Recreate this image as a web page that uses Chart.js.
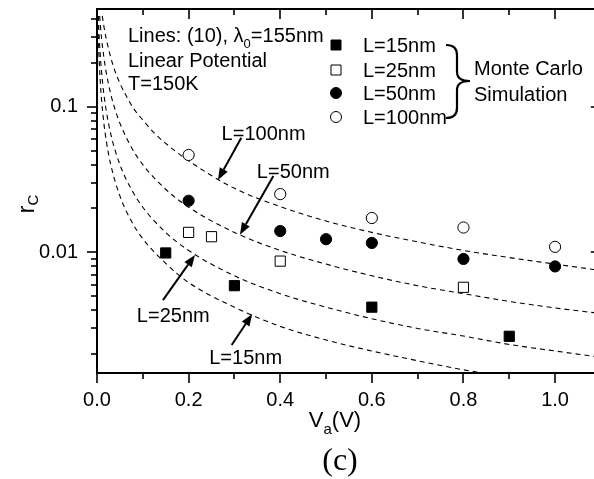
<!doctype html>
<html lang="en">
  <head>
    <meta charset="utf-8">
    <title>r_c vs V_a</title>
    <style>
      html, body {
        margin: 0;
        padding: 0;
        overflow: hidden;
        background: #fff;
      }
      #myChart {
        display: block;
        width: 594px;
        height: 479px;
      }
    </style>
  </head>
  <body>
    <canvas id="myChart" width="594" height="479"></canvas>
    <script src="https://cdn.jsdelivr.net/npm/chart.js"></script>
    <script>
    // Monte Carlo points: V_a (V) and r_c
    const mcL15x = [0.15, 0.3, 0.6, 0.9];
    const mcL15y = [0.0099, 0.0059, 0.0042, 0.00265];
    const mcL25x = [0.2, 0.25, 0.4, 0.8];
    const mcL25y = [0.0137, 0.0128, 0.0087, 0.00575];
    const mcL50x = [0.2, 0.4, 0.5, 0.6, 0.8, 1.0];
    const mcL50y = [0.0226, 0.0140, 0.0123, 0.0116, 0.0090, 0.0080];
    const mcL100x = [0.2, 0.4, 0.6, 0.8, 1.0];
    const mcL100y = [0.0466, 0.0251, 0.0172, 0.0148, 0.0109];

    // dashed model lines, eq. (10)
    const eqL15x = [0.0017, 0.002, 0.003, 0.005, 0.0075, 0.01, 0.015, 0.02, 0.03, 0.05, 0.075, 0.1, 0.15, 0.2, 0.3, 0.4, 0.5, 0.6, 0.7, 0.8, 0.9];
    const eqL15y = [0.42, 0.385, 0.294, 0.200, 0.143, 0.111, 0.077, 0.0589, 0.040, 0.0244, 0.0164, 0.0124, 0.0084, 0.0062, 0.0042, 0.0031, 0.0025, 0.0021, 0.0018, 0.00156, 0.00139];
    const eqL25x = [0.0029, 0.004, 0.005, 0.0075, 0.01, 0.015, 0.02, 0.03, 0.05, 0.075, 0.1, 0.15, 0.2, 0.3, 0.4, 0.5, 0.6, 0.7, 0.8, 0.9, 1.0, 1.1];
    const eqL25y = [0.42, 0.343, 0.294, 0.218, 0.173, 0.122, 0.0945, 0.065, 0.040, 0.0271, 0.0204, 0.0137, 0.0103, 0.0069, 0.0052, 0.0042, 0.0035, 0.003, 0.00266, 0.00233, 0.0021, 0.0019];
    const eqL50x = [0.0058, 0.0075, 0.01, 0.015, 0.02, 0.03, 0.04, 0.05, 0.075, 0.1, 0.15, 0.2, 0.3, 0.4, 0.5, 0.6, 0.7, 0.8, 0.9, 1.0, 1.1];
    const eqL50y = [0.42, 0.357, 0.294, 0.218, 0.173, 0.122, 0.0945, 0.077, 0.0527, 0.040, 0.0271, 0.0204, 0.0137, 0.0103, 0.0083, 0.0069, 0.0059, 0.0052, 0.0046, 0.00415, 0.0038];
    const eqL100x = [0.0115, 0.015, 0.02, 0.03, 0.04, 0.05, 0.06, 0.08, 0.1, 0.125, 0.15, 0.2, 0.3, 0.4, 0.5, 0.6, 0.7, 0.8, 0.9, 1.0, 1.1];
    const eqL100y = [0.42, 0.357, 0.294, 0.218, 0.173, 0.145, 0.125, 0.097, 0.081, 0.066, 0.056, 0.0425, 0.0275, 0.0206, 0.0164, 0.0137, 0.0118, 0.0103, 0.0092, 0.0083, 0.0075];

    // axes (the picture is cut just short of the right axis at 1.1)
    const xMin = 0, xMax = 1.085, xFrame = 1.1;
    const yMin = 0.001483, yMax = 0.4688;
    const xMajor = [0, 0.2, 0.4, 0.6, 0.8, 1.0];
    const xMinor = [0.1, 0.3, 0.5, 0.7, 0.9];
    const yMajor = [0.01, 0.1];
    const yMinor = [0.002, 0.003, 0.004, 0.005, 0.006, 0.007, 0.008, 0.009,
                    0.02, 0.03, 0.04, 0.05, 0.06, 0.07, 0.08, 0.09, 0.2, 0.3, 0.4];

    // labels pointing at the dashed lines: text left-middle, arrow tail and tip (data units)
    const curveNotes = [
      { text: 'L=100nm', at: [0.272, 0.0642], from: [0.315, 0.0612], to: [0.264, 0.0314] },
      { text: 'L=50nm', at: [0.349, 0.0355], from: [0.385, 0.0334], to: [0.312, 0.0132] },
      { text: 'L=25nm', at: [0.087, 0.0036], from: [0.144, 0.0047], to: [0.214, 0.0096] },
      { text: 'L=15nm', at: [0.245, 0.00188], from: [0.294, 0.00231], to: [0.339, 0.00377] }
    ];

    const FONT = '"Liberation Sans", Arial, sans-serif';
    const pts = (xs, ys) => xs.map((v, i) => ({ x: v, y: ys[i] }));

    function mcSet(label, xs, ys, style, fill, r) {
      return {
        label, data: pts(xs, ys), showLine: false,
        pointStyle: style, pointRadius: r, pointHoverRadius: r,
        backgroundColor: fill, borderColor: '#000', pointBorderWidth: 1
      };
    }
    function eqSet(label, xs, ys) {
      return {
        label, data: pts(xs, ys), showLine: true, pointRadius: 0,
        borderColor: '#000', borderWidth: 1.1, borderDash: [5, 4],
        cubicInterpolationMode: 'monotone', fill: false
      };
    }

    const data = {
      datasets: [
        mcSet('L=15nm', mcL15x, mcL15y, 'rect', '#000', 7.2),
        mcSet('L=25nm', mcL25x, mcL25y, 'rect', '#fff', 7.2),
        mcSet('L=50nm', mcL50x, mcL50y, 'circle', '#000', 5.6),
        mcSet('L=100nm', mcL100x, mcL100y, 'circle', '#fff', 5.6),
        eqSet('eq L=15nm', eqL15x, eqL15y),
        eqSet('eq L=25nm', eqL25x, eqL25y),
        eqSet('eq L=50nm', eqL50x, eqL50y),
        eqSet('eq L=100nm', eqL100x, eqL100y)
      ]
    };

    // draw a run of text pieces, some of them subscripts
    function drawParts(ctx, parts, x, y) {
      parts.forEach(p => {
        ctx.font = p.size + 'px ' + FONT;
        ctx.fillText(p.t, x, y + (p.dy || 0));
        x += ctx.measureText(p.t).width;
      });
    }
    function partsWidth(ctx, parts) {
      return parts.reduce((w, p) => { ctx.font = p.size + 'px ' + FONT; return w + ctx.measureText(p.t).width; }, 0);
    }
    function arrow(ctx, x1, y1, x2, y2) {
      const ang = Math.atan2(y2 - y1, x2 - x1), len = 12, half = 4.5;
      const bx = x2 - len * Math.cos(ang), by = y2 - len * Math.sin(ang);
      ctx.lineWidth = 2;
      ctx.beginPath(); ctx.moveTo(x1, y1); ctx.lineTo(bx, by); ctx.stroke();
      ctx.beginPath();
      ctx.moveTo(x2, y2);
      ctx.lineTo(bx + half * Math.sin(ang), by - half * Math.cos(ang));
      ctx.lineTo(bx - half * Math.sin(ang), by + half * Math.cos(ang));
      ctx.closePath(); ctx.fill();
    }

    // chart.js keeps a few px on the right for labels; let the plot run to the canvas edge
    const fullWidth = {
      id: 'fullWidth',
      afterLayout(chart) {
        const a = chart.chartArea, s = chart.scales.x;
        a.right = chart.width; a.width = a.right - a.left;
        s.right = chart.width; s.width = s.right - s.left;
        s.configure();
      }
    };

    const decor = {
      id: 'decor',
      afterDraw(chart) {
        const { ctx, scales: { x, y } } = chart;
        const L = Math.round(x.getPixelForValue(xMin));
        const R = x.getPixelForValue(xFrame);   // lies just past the canvas edge
        const T = Math.round(y.getPixelForValue(yMax));
        const B = Math.round(y.getPixelForValue(yMin));
        ctx.save();
        ctx.strokeStyle = '#000';
        ctx.fillStyle = '#000';
        const seg = (x1, y1, x2, y2) => { ctx.beginPath(); ctx.moveTo(x1, y1); ctx.lineTo(x2, y2); ctx.stroke(); };

        // frame
        ctx.fillRect(L - 1, T - 1, R - L + 2, 2);
        ctx.fillRect(L - 1, B - 1, R - L + 2, 2);
        ctx.fillRect(L - 1, T - 1, 2, B - T + 2);
        ctx.fillRect(R - 1, T - 1, 2, B - T + 2);

        // ticks: out on bottom/left, in on top/right
        ctx.lineWidth = 1.6;
        [[xMajor, 10], [xMinor, 6]].forEach(([vals, len]) => vals.forEach(v => {
          const px = Math.round(x.getPixelForValue(v));
          seg(px, B, px, B + len);
          seg(px, T, px, T + len);
        }));
        [[yMajor, 10], [yMinor, 6]].forEach(([vals, len]) => vals.forEach(v => {
          const py = Math.round(y.getPixelForValue(v));
          seg(L - len, py, L, py);
          seg(R - len, py, R, py);
        }));

        // axis titles
        ctx.textBaseline = 'alphabetic';
        ctx.textAlign = 'left';
        const xt = [{ t: 'V', size: 22 }, { t: 'a', size: 15, dy: 7 }, { t: '(V)', size: 22 }];
        drawParts(ctx, xt, 335 - partsWidth(ctx, xt) / 2, 427);
        ctx.save();
        ctx.translate(34, 204);
        ctx.rotate(-Math.PI / 2);
        const yt = [{ t: 'r', size: 23 }, { t: 'C', size: 15, dy: 4 }];
        drawParts(ctx, yt, -partsWidth(ctx, yt) / 2, 0);
        ctx.restore();

        // panel letter
        ctx.font = '32px "Liberation Serif", "Times New Roman", serif';
        ctx.textAlign = 'center';
        ctx.fillText('(c)', 340, 470);
        ctx.textAlign = 'left';

        // info block
        const tx = L + 31;
        drawParts(ctx, [{ t: 'Lines: (10), λ', size: 20 }, { t: '0', size: 13, dy: 6 }, { t: '=155nm', size: 20 }], tx, 42);
        drawParts(ctx, [{ t: 'Linear Potential', size: 20 }], tx, 67);
        drawParts(ctx, [{ t: 'T=150K', size: 20 }], tx, 90);

        // legend for the Monte Carlo sets
        const mx = L + 239, lx = L + 266;
        [52, 77, 100, 124].forEach((base, i) => {
          const ds = chart.data.datasets[i];
          const cy = base - 7;
          ctx.fillStyle = ds.backgroundColor;
          ctx.lineWidth = 1;
          ctx.beginPath();
          if (ds.pointStyle === 'rect') ctx.rect(mx - 5, cy - 5, 10, 10);
          else ctx.arc(mx, cy, 5.5, 0, Math.PI * 2);
          ctx.fill(); ctx.stroke();
          ctx.fillStyle = '#000';
          drawParts(ctx, [{ t: ds.label, size: 20 }], lx, base);
        });

        // curly brace
        const bx = L + 360, top = 45, bot = 118, mid = 81;
        ctx.lineWidth = 2.2;
        ctx.beginPath();
        ctx.moveTo(bx - 11, top);
        ctx.quadraticCurveTo(bx, top, bx, top + 10);
        ctx.lineTo(bx, mid - 9);
        ctx.quadraticCurveTo(bx, mid, bx + 13, mid);
        ctx.quadraticCurveTo(bx, mid, bx, mid + 9);
        ctx.lineTo(bx, bot - 10);
        ctx.quadraticCurveTo(bx, bot, bx - 11, bot);
        ctx.stroke();
        drawParts(ctx, [{ t: 'Monte Carlo', size: 20 }], bx + 17, 75);
        drawParts(ctx, [{ t: 'Simulation', size: 20 }], bx + 17, 101);

        // curve labels with arrows
        curveNotes.forEach(n => {
          ctx.textBaseline = 'middle';
          drawParts(ctx, [{ t: n.text, size: 20 }], x.getPixelForValue(n.at[0]), y.getPixelForValue(n.at[1]));
          arrow(ctx, x.getPixelForValue(n.from[0]), y.getPixelForValue(n.from[1]),
                x.getPixelForValue(n.to[0]), y.getPixelForValue(n.to[1]));
        });
        ctx.restore();
      }
    };

    const config = {
      type: 'scatter',
      data,
      options: {
        responsive: false,
        animation: false,
        devicePixelRatio: 1,
        layout: { padding: { top: 9, right: 0, left: 0, bottom: 0 } },
        plugins: { legend: { display: false }, tooltip: { enabled: false } },
        scales: {
          x: {
            type: 'linear', min: xMin, max: xMax,
            afterFit: s => { s.height = 106; },
            afterBuildTicks: s => { s.ticks = xMajor.map(v => ({ value: v })); },
            grid: { display: false, drawTicks: false },
            border: { display: false },
            ticks: { color: '#000', padding: 15, font: { family: FONT, size: 20 },
                     callback: v => Number(v).toFixed(1), autoSkip: false, maxRotation: 0 }
          },
          y: {
            type: 'logarithmic', min: yMin, max: yMax,
            afterFit: s => { s.width = 97; s.paddingTop = 0; s.paddingBottom = 0; },
            afterBuildTicks: s => { s.ticks = yMajor.map(v => ({ value: v })); },
            grid: { display: false, drawTicks: false },
            border: { display: false },
            ticks: { color: '#000', padding: 19, font: { family: FONT, size: 20 },
                     callback: v => String(v), autoSkip: false }
          }
        }
      },
      plugins: [fullWidth, decor]
    };

    const myChart = new Chart(document.getElementById('myChart'), config);
    </script>
  </body>
</html>
